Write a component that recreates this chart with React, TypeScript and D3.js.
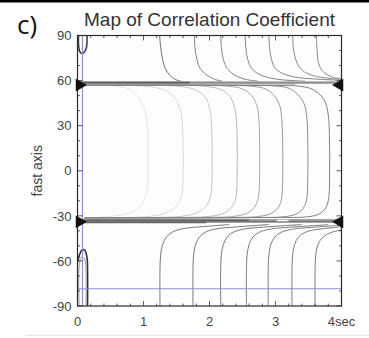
import React from 'react';
import * as d3 from 'd3';

const W = 369;
const H = 338;

const titleText = 'Map of Correlation Coefficient';
const panelLabel = 'c)';
const yAxisLabel = 'fast axis';

const xTicks = [0, 1, 2, 3, 4];
const xTickLabels = ['0', '1', '2', '3', '4sec'];
const yTicks = [-90, -60, -30, 0, 30, 60, 90];
const yTickLabels = ['-90', '-60', '-30', '0', '30', '60', '90'];

// contours above the upper ambiguity band: [delay (s), fast axis (deg)]
const upperContours: number[][][] = [
  [[1.245, 90], [1.26, 82], [1.29, 74], [1.33, 68], [1.4, 63.5], [1.48, 60.8], [1.57, 59.5]],
  [[1.77, 90], [1.78, 82], [1.81, 74], [1.86, 68], [1.95, 64], [2.07, 61], [2.2, 59.5]],
  [[2.17, 90], [2.18, 82], [2.21, 74], [2.27, 68], [2.37, 64], [2.53, 61], [2.73, 59.6]],
  [[2.54, 90], [2.55, 82], [2.58, 74], [2.64, 68], [2.76, 64], [2.98, 61.2], [3.25, 60], [3.45, 59.6]],
  [[2.9, 90], [2.91, 82], [2.94, 74], [3.0, 68], [3.12, 64.5], [3.35, 62], [3.7, 60.8], [4.0, 60.2]],
  [[3.26, 90], [3.27, 82], [3.3, 75], [3.36, 69], [3.47, 65], [3.65, 62.5], [3.85, 61.3], [4.0, 60.8]],
  [[3.62, 90], [3.63, 80], [3.65, 72], [3.7, 67], [3.78, 64], [3.88, 62], [4.0, 61.3]],
];
const upperLevels = [0.6, 0.52, 0.52, 0.5, 0.5, 0.48, 0.48];

// contours between the two bands
const middleContours: number[][][] = [
  [[0.1, 57.4], [0.4, 57.1], [0.62, 56.2], [0.8, 53.8], [0.93, 48.5], [1.02, 40], [1.06, 30], [1.07, 15], [1.07, 0], [1.065, -9], [1.04, -16], [0.96, -23], [0.8, -27.8], [0.55, -30.2], [0.3, -31], [0.1, -31.4]],
  [[0.1, 57.3], [0.6, 57], [1.05, 56.1], [1.32, 53.6], [1.48, 48.2], [1.56, 40], [1.59, 30], [1.6, 15], [1.6, 0], [1.595, -10], [1.575, -17], [1.5, -23.5], [1.35, -28], [1.1, -30.3], [0.7, -31.1], [0.1, -31.4]],
  [[0.1, 57.2], [0.9, 57], [1.55, 56.1], [1.79, 53.8], [1.94, 48.6], [2.005, 41], [2.03, 31], [2.04, 15], [2.04, 0], [2.035, -10], [2.015, -17], [1.95, -23.5], [1.81, -28], [1.57, -30.3], [1.1, -31.1], [0.1, -31.4]],
  [[0.1, 57.1], [1.3, 57], [1.94, 56.2], [2.17, 54], [2.31, 49.5], [2.38, 42], [2.41, 32], [2.42, 15], [2.42, 0], [2.415, -11], [2.4, -18], [2.34, -24], [2.22, -28.3], [1.99, -30.4], [1.5, -31.1], [0.1, -31.4]],
  [[0.1, 57], [1.7, 57], [2.28, 56.3], [2.5, 54.4], [2.64, 50], [2.72, 43], [2.75, 33], [2.76, 15], [2.76, 0], [2.755, -11], [2.74, -18], [2.685, -24], [2.57, -28.3], [2.36, -30.4], [1.9, -31.1], [0.1, -31.4]],
  [[0.1, 57], [2.1, 56.9], [2.63, 56.3], [2.84, 54.6], [2.97, 50.5], [3.06, 44], [3.095, 34], [3.11, 15], [3.11, 0], [3.105, -12], [3.09, -19], [3.04, -24.5], [2.93, -28.5], [2.73, -30.5], [2.3, -31.1], [0.1, -31.4]],
  [[0.1, 56.9], [2.5, 56.8], [3.0, 56.4], [3.21, 54.8], [3.33, 51], [3.43, 45], [3.475, 35], [3.49, 15], [3.49, 0], [3.485, -13], [3.47, -19.5], [3.42, -25], [3.32, -28.7], [3.13, -30.6], [2.7, -31.1], [0.1, -31.4]],
  [[0.1, 56.8], [2.9, 56.7], [3.33, 56.4], [3.52, 54.9], [3.65, 51.6], [3.75, 46], [3.8, 37], [3.82, 15], [3.82, 0], [3.815, -14], [3.8, -20], [3.75, -25.5], [3.65, -29], [3.47, -30.7], [3.0, -31.1], [0.1, -31.4]],
];
const middleLevels = [0.07, 0.13, 0.2, 0.27, 0.34, 0.4, 0.46, 0.52];

// contours below the lower band
const lowerContours: number[][][] = [
  [[1.25, -90], [1.25, -65], [1.26, -56], [1.29, -49], [1.35, -44], [1.45, -40.5], [1.63, -38.3], [1.9, -37.2], [2.3, -35.8]],
  [[1.75, -90], [1.75, -65], [1.76, -56], [1.79, -49], [1.85, -44], [1.95, -40.6], [2.13, -38.5], [2.4, -37.4], [2.9, -35.8]],
  [[2.17, -90], [2.17, -65], [2.18, -56], [2.21, -49], [2.27, -44], [2.37, -40.7], [2.55, -38.6], [2.82, -37.5], [3.4, -35.8]],
  [[2.56, -90], [2.56, -65], [2.57, -56], [2.6, -49], [2.66, -44], [2.76, -40.8], [2.94, -38.7], [3.21, -37.6], [3.8, -35.9]],
  [[2.89, -90], [2.89, -65], [2.9, -56], [2.93, -49], [2.99, -44], [3.09, -40.9], [3.27, -38.8], [3.54, -37.7], [4.0, -36.3]],
  [[3.25, -90], [3.25, -65], [3.26, -56], [3.29, -49], [3.35, -44], [3.45, -41], [3.63, -39], [3.85, -38], [4.0, -37.2]],
  [[3.6, -90], [3.6, -65], [3.61, -56], [3.64, -49.5], [3.7, -45], [3.79, -42], [3.9, -40.3], [4.0, -39.4]],
];
const lowerLevels = [0.56, 0.56, 0.56, 0.54, 0.54, 0.54, 0.54];

// small closed contours at zero delay
const loopContours: number[][][] = [
  [[0.015, 90], [0.02, 82], [0.05, 78.3], [0.1, 78.8], [0.135, 82], [0.145, 90]],
  [[0, -61], [0.03, -56], [0.07, -52.5], [0.11, -53], [0.145, -58], [0.152, -66], [0.152, -90]],
  [[0.025, -90], [0.025, -64], [0.06, -57.5], [0.1, -58], [0.125, -63], [0.128, -90]],
];
const loopLevels = [0.8, 0.88, 0.4];

// dense line bundles along the two ambiguity bands: [fast axis, from delay, to delay]
const bandLines: number[][] = [
  [58.5, 0, 4],
  [58.6, 0, 1.7],
  [57.8, 0, 3.3],
  [59.2, 0, 4],
  [-33.2, 0, 2.6],
  [-33.9, 0, 1.6],
  [-33.6, 0, 4],
  [-32.7, 0, 4],
  [-34.1, 0, 3.9],
  [-34.5, 0, 1.95],
];
const bandLevels = [0.72, 0.95, 0.4, 0.35, 0.95, 0.92, 0.72, 0.5, 0.5, 0.65];
const bandGaps: number[][] = [[-33.1, 3.02, 3.2]];

// best-fit markers on the frame
const markerPhi = [57, -34];
const refDelay = 0.075;
const refPhi = -78.5;

export default function App() {
  const x = d3.scaleLinear().domain([0, 4]).range([77.5, 341.5]);
  const y = d3.scaleLinear().domain([-90, 90]).range([306, 35.5]);
  const gray = d3.scaleLinear<string>().domain([0, 1]).range(['#f4f4f4', '#151515']);
  const line = d3
    .line<number[]>()
    .x((d) => x(d[0]))
    .y((d) => y(d[1]))
    .curve(d3.curveCatmullRom.alpha(0.5));

  const x0 = x(0), x1 = x(4), y0 = y(-90), y1 = y(90);
  const xMinor = d3.range(0, 4.0001, 0.2);
  const yMinor = d3.range(-90, 90.001, 10);
  const tri = d3.symbol().type(d3.symbolTriangle).size(72)() || '';
  const font = "'Liberation Sans', Arial, Helvetica, sans-serif";

  return (
    <svg
      width={W}
      height={H}
      style={{ position: 'absolute', left: 0, top: 0, background: '#fff' }}
      fontFamily={font}
    >
      <defs>
        <clipPath id="plotClip">
          <rect x={x0} y={y1} width={x1 - x0} height={y0 - y1} />
        </clipPath>
      </defs>
      <rect x={0} y={0} width={W} height={2.5} fill="#000" />
      <line x1={25} x2={W} y1={335.5} y2={335.5} stroke="#e6e6e6" strokeWidth={1} />

      <text x={17} y={34} fontSize={26} fill="#111" fontFamily="'Open Sans', sans-serif">{panelLabel}</text>
      <text x={(x0 + x1) / 2} y={26} fontSize={19} fill="#333" textAnchor="middle">{titleText}</text>

      <rect x={x0} y={y1} width={x1 - x0} height={y0 - y1} fill="#fdfdfd" />

      <g clipPath="url(#plotClip)" fill="none">
        {middleContours.map((c, i) => (
          <path key={'m' + i} d={line(c) || ''} stroke={gray(middleLevels[i])} strokeWidth={1} />
        ))}
        {upperContours.map((c, i) => (
          <path key={'u' + i} d={line(c) || ''} stroke={gray(upperLevels[i])} strokeWidth={1} />
        ))}
        {lowerContours.map((c, i) => (
          <path key={'l' + i} d={line(c) || ''} stroke={gray(lowerLevels[i])} strokeWidth={1} />
        ))}
        {bandLines.map((b, i) => (
          <line
            key={'b' + i}
            x1={x(b[1])}
            x2={x(b[2])}
            y1={y(b[0])}
            y2={y(b[0])}
            stroke={gray(bandLevels[i])}
            strokeWidth={bandLevels[i] > 0.9 ? 2.4 : 1.3}
          />
        ))}
        {bandGaps.map((g, i) => (
          <line key={'g' + i} x1={x(g[1])} x2={x(g[2])} y1={y(g[0])} y2={y(g[0])} stroke="#fff" strokeWidth={1.4} />
        ))}
        {loopContours.map((c, i) => (
          <path key={'o' + i} d={line(c) || ''} stroke={gray(loopLevels[i])} strokeWidth={i === 2 ? 1 : 1.6} />
        ))}
        <line x1={x(refDelay)} x2={x(refDelay)} y1={y1} y2={y0} stroke="#8a90d0" strokeWidth={1.1} />
        <line x1={x0} x2={x1} y1={y(refPhi)} y2={y(refPhi)} stroke="#8a90d0" strokeWidth={1.1} />
      </g>

      {/* ticks */}
      <g stroke="#333" strokeWidth={0.8}>
        {xMinor.map((t, i) => {
          const major = Math.abs(t - Math.round(t)) < 1e-6;
          const len = major ? 5 : 2.5;
          return (
            <g key={'xt' + i}>
              <line x1={x(t)} x2={x(t)} y1={y0} y2={y0 - len} />
              <line x1={x(t)} x2={x(t)} y1={y1} y2={y1 + len} />
            </g>
          );
        })}
        {yMinor.map((p, i) => {
          const major = Math.abs(p % 30) < 1e-6;
          const len = major ? 5 : 2.5;
          return (
            <g key={'yt' + i}>
              <line x1={x0} x2={x0 + len} y1={y(p)} y2={y(p)} />
              <line x1={x1} x2={x1 - len} y1={y(p)} y2={y(p)} />
            </g>
          );
        })}
      </g>
      <rect x={x0} y={y1} width={x1 - x0} height={y0 - y1} fill="none" stroke="#2a2a2a" strokeWidth={1.2} />

      {markerPhi.map((p, i) => (
        <g key={'mk' + i} fill="#111">
          <path d={tri} transform={`translate(${x0 + 2},${y(p)}) rotate(90)`} />
          <path d={tri} transform={`translate(${x1 - 2},${y(p)}) rotate(-90)`} />
        </g>
      ))}

      {yTicks.map((v, i) => (
        <text key={'yl' + i} x={x0 - 6} y={y(v)} dy="0.36em" fontSize={13} fill="#444" textAnchor="end">
          {yTickLabels[i]}
        </text>
      ))}
      {xTicks.map((v, i) => (
        <text key={'xl' + i} x={x(v)} y={326} fontSize={13} fill="#444" textAnchor="middle">
          {xTickLabels[i]}
        </text>
      ))}
      <text transform={`translate(42,${(y0 + y1) / 2}) rotate(-90)`} fontSize={14} fill="#444" textAnchor="middle">
        {yAxisLabel}
      </text>
    </svg>
  );
}
